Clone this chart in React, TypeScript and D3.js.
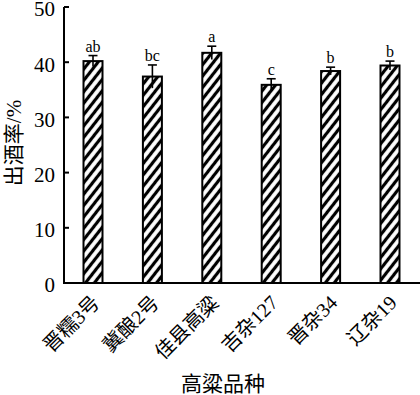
import React from "react";
import * as d3 from "d3";

const categories = ["晋糯3号", "冀酿2号", "佳县高粱", "吉杂127", "晋杂34", "辽杂19"];
const values = [40.2, 37.4, 41.7, 35.9, 38.4, 39.4];
const errors = [1.0, 2.1, 1.2, 1.1, 0.7, 0.8];
const letters = ["ab", "bc", "a", "c", "b", "b"];
const yTicks = [0, 10, 20, 30, 40, 50];

const W = 420;
const H = 395;
const serif = "'Liberation Serif', 'Times New Roman', 'Noto Sans CJK SC', serif";

export default function App() {
  const y = d3.scaleLinear().domain([0, 50]).range([283, 7]);
  const x = d3.scalePoint<string>().domain(categories).range([93, 390]).padding(0);
  const barW = 19;
  const axisX = 64;
  const axisY = y(0);

  return (
    <svg width={W} height={H} style={{ position: "absolute", left: 0, top: 0, background: "#fff" }}>
      <defs>
        <pattern id="hatch" patternUnits="userSpaceOnUse" width={7} height={7} patternTransform="rotate(38)">
          <rect width={7} height={7} fill="#fff" />
          <line x1={3.5} y1={0} x2={3.5} y2={7} stroke="#000" strokeWidth={3.2} />
        </pattern>
      </defs>
      {/* bars */}
      {categories.map((c, i) => {
        const cx = x(c)!;
        const top = y(values[i]);
        return (
          <g key={c}>
            <rect x={cx - barW / 2} y={top} width={barW} height={axisY - top} fill="url(#hatch)" stroke="#000" strokeWidth={2} />
            <line x1={cx} x2={cx} y1={y(values[i] - errors[i])} y2={y(values[i] + errors[i])} stroke="#000" strokeWidth={1.6} />
            <line x1={cx - 4.5} x2={cx + 4.5} y1={y(values[i] + errors[i])} y2={y(values[i] + errors[i])} stroke="#000" strokeWidth={1.6} />
            <text x={cx} y={y(values[i] + errors[i]) - 4} textAnchor="middle" fontFamily={serif} fontSize={16} fill="#000">
              {letters[i]}
            </text>
            <text
              transform={`translate(${cx + 8},${axisY + 21}) rotate(-45)`}
              textAnchor="end"
              fontFamily={serif}
              fontSize={20}
              fill="#000"
            >
              {c}
            </text>
          </g>
        );
      })}
      {/* axes */}
      <line x1={axisX} x2={axisX} y1={y(50)} y2={axisY} stroke="#000" strokeWidth={2} />
      <line x1={axisX - 1} x2={W} y1={axisY} y2={axisY} stroke="#000" strokeWidth={2} />
      {yTicks.map((t) => (
        <g key={t}>
          <line x1={axisX} x2={axisX + 5} y1={y(t)} y2={y(t)} stroke="#000" strokeWidth={2} />
          <text x={55} y={y(t)} dy="0.45em" textAnchor="end" fontFamily={serif} fontSize={21} fill="#000">
            {t}
          </text>
        </g>
      ))}
      <text transform="translate(21,143) rotate(-90)" textAnchor="middle" fontFamily={serif} fontSize={21} fill="#000">
        出酒率/%
      </text>
      <text x={223} y={391} textAnchor="middle" fontFamily={serif} fontSize={21} fill="#000">
        高粱品种
      </text>
    </svg>
  );
}
